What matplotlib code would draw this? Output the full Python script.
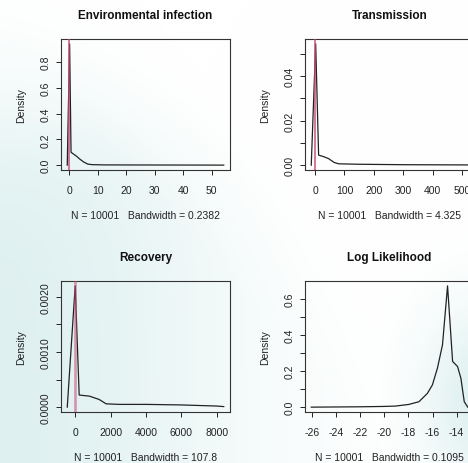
import numpy as np
import matplotlib
matplotlib.use("Agg")
import matplotlib.pyplot as plt

plt.rcParams['font.family'] = ['Liberation Sans', 'DejaVu Sans']

W, H = 468, 464

# ---------------- data ----------------
titles = ["Environmental infection", "Transmission", "Recovery", "Log Likelihood"]
subs = ["N = 10001   Bandwidth = 0.2382", "N = 10001   Bandwidth = 4.325",
        "N = 10001   Bandwidth = 107.8", "N = 10001   Bandwidth = 0.1095"]

env_x = [-0.73, 0.1, 0.6, 1.2, 2.5, 3.5, 5.0, 6.5, 8.0, 12.0, 20.0, 35.0, 54.3]
env_y = [0.0, 0.94, 0.10, 0.09, 0.07, 0.05, 0.025, 0.008, 0.004, 0.002, 0.0015, 0.001, 0.0003]

trans_x = [-13, 2, 12, 25, 45, 65, 80, 150, 300, 519]
trans_y = [0.0, 0.0545, 0.0045, 0.004, 0.003, 0.0012, 0.0006, 0.0004, 0.0002, 0.0001]

rec_x = [-449, 0, 225, 500, 800, 1350, 1750, 2500, 4000, 6000, 8000, 8394]
rec_y = [0.0, 0.0022, 0.00022, 0.00021, 0.0002, 0.00014, 0.00006, 0.00005, 0.00005,
         0.00004, 0.00002, 0.00001]

ll_x = [-26.09, -24, -22, -20, -19.08, -17.97, -17.13, -16.43, -16.01, -15.59, -15.17,
        -14.75, -14.33, -13.92, -13.64, -13.36, -13.07]
ll_y = [0.0, 0.001, 0.002, 0.004, 0.006, 0.015, 0.030, 0.076, 0.123, 0.216, 0.345,
        0.671, 0.253, 0.225, 0.16, 0.03, 0.0]

true_vals = [0, 0, 0, None]

xticks = [[0, 10, 20, 30, 40, 50],
          [0, 100, 200, 300, 400, 500],
          [0, 2000, 4000, 6000, 8000],
          [-26, -24, -22, -20, -18, -16, -14]]
xticklabels = [["0", "10", "20", "30", "40", "50"],
               ["0", "100", "200", "300", "400", "500"],
               ["0", "2000", "4000", "6000", "8000"],
               ["-26", "-24", "-22", "-20", "-18", "-16", "-14"]]
yticks = [[0.0, 0.2, 0.4, 0.6, 0.8],
          [0.0, 0.01, 0.02, 0.03, 0.04, 0.05],
          [0.0, 0.0005, 0.001, 0.0015, 0.002],
          [0.0, 0.1, 0.2, 0.3, 0.4, 0.5, 0.6]]
yticklabels = [["0.0", "0.2", "0.4", "0.6", "0.8"],
               ["0.00", "", "0.02", "", "0.04", ""],
               ["0.0000", "", "0.0010", "", "0.0020"],
               ["0.0", "", "0.2", "", "0.4", "", "0.6"]]

series = [(env_x, env_y), (trans_x, trans_y), (rec_x, rec_y), (ll_x, ll_y)]

# ---------------- layout (pixels) ----------------
boxes = [(61, 230, 40, 171), (305, 474, 40, 171),
         (61, 230, 282, 413), (305, 474, 282, 413)]
red_lw = [1.3, 1.3, 1.9, 1.3]
red_alpha = [0.8, 0.8, 0.55, 0.8]

fig = plt.figure(figsize=(W / 100, H / 100), dpi=100)

# soft teal background wash
bg = fig.add_axes([0, 0, 1, 1], zorder=-10)
yy, xx = np.mgrid[0:H, 0:W]
s1 = np.exp(-((xx / 230.0) ** 2)) * (1 / (1 + np.exp(-(yy - 120) / 40.0)))
s1 *= np.clip(1.2 - np.maximum(0, (xx - 0.9 * (yy - 60))) / 160.0, 0, 1)
s2 = np.exp(-(((xx - 480) / 60.0) ** 2 + ((yy - 400) / 90.0) ** 2))
s = np.clip(np.maximum(s1, s2), 0, 1) * 0.85
white = np.array([1.0, 1.0, 1.0])
teal = np.array([218, 238, 238]) / 255.0
img = white[None, None, :] * (1 - s[..., None]) + teal[None, None, :] * s[..., None]
bg.imshow(img, extent=[0, W, H, 0], aspect='auto', interpolation='bilinear')
bg.set_xlim(0, W)
bg.set_ylim(H, 0)
bg.axis('off')

fs = 7.5
for i, (x, y) in enumerate(series):
    l, r, t, b = boxes[i]
    ax = fig.add_axes([l / W, 1 - b / H, (r - l) / W, (b - t) / H])
    ax.set_facecolor('none')
    xmin, xmax = min(x), max(x)
    rng = xmax - xmin
    ymax = max(y)
    ax.set_xlim(xmin - 0.04 * rng, xmax + 0.04 * rng)
    ax.set_ylim(-0.04 * ymax, 1.04 * ymax)
    ax.plot(x, y, color='#222222', lw=0.9, zorder=3)
    if true_vals[i] is not None:
        ax.axvline(true_vals[i], color='#c64a72', lw=red_lw[i], alpha=red_alpha[i], zorder=4)
    ax.set_xticks(xticks[i])
    ax.set_xticklabels(xticklabels[i])
    ax.set_yticks(yticks[i])
    ax.set_yticklabels(yticklabels[i], rotation=90, va='center')
    ax.tick_params(axis='both', direction='out', length=3.5, width=0.7,
                   labelsize=fs, colors='#222222')
    ax.tick_params(axis='x', pad=7)
    ax.tick_params(axis='y', pad=4)
    for sp in ax.spines.values():
        sp.set_linewidth(0.8)
        sp.set_color('#333333')
    cx = (l + r) / 2
    fig.text(cx / W, 1 - (t - 24) / H, titles[i], ha='center', va='center',
             fontsize=8.5, fontweight='bold', color='#111111')
    fig.text(cx / W, 1 - (b + 45) / H, subs[i], ha='center', va='center',
             fontsize=fs, color='#222222')
    fig.text((l - 40) / W, 1 - ((t + b) / 2) / H, "Density", ha='center', va='center',
             rotation=90, fontsize=fs, color='#222222')

fig.savefig("out.png", dpi=100)
